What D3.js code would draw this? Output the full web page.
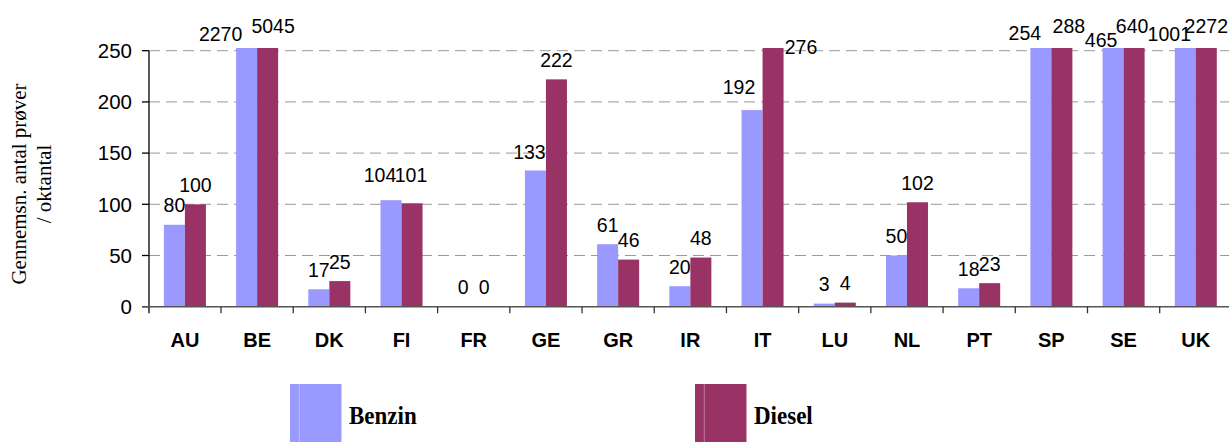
<!DOCTYPE html>
<html lang="da">
<head>
  <meta charset="UTF-8">
  <title>Gennemsn. antal prøver / oktantal</title>
  <style>
    body { margin: 0; background: #fff; overflow: hidden; }
    .grid line { stroke: #9a9a9a; stroke-width: 1; stroke-dasharray: 11 6; }
    .num { font-family: Arial, "Liberation Sans", sans-serif; font-size: 19.5px; fill: #000; }
    .cat { font-family: Arial, "Liberation Sans", sans-serif; font-size: 20px; font-weight: bold; fill: #000; }
    .serif { font-family: "Times New Roman", "Liberation Serif", serif; fill: #000; }
  </style>
</head>
<body>
  <script src="https://cdn.jsdelivr.net/npm/d3@7/dist/d3.min.js"></script>
  <script>
    const categories = ["AU", "BE", "DK", "FI", "FR", "GE", "GR", "IR", "IT", "LU", "NL", "PT", "SP", "SE", "UK"];
    const benzin = [80, 2270, 17, 104, 0, 133, 61, 20, 192, 3, 50, 18, 254, 465, 1001];
    const diesel = [100, 5045, 25, 101, 0, 222, 46, 48, 276, 4, 102, 23, 288, 640, 2272];
    const yTicks = [0, 50, 100, 150, 200, 250];
    const seriesNames = ["Benzin", "Diesel"];
    const colors = ["#9999ff", "#993366"];

    // label nudges (dx, dy) where the labels were moved by hand in the original
    const labelNudge = {
      "BE-0": [-26, 5.5], "BE-1": [5.5, -2.8],
      "FI-0": [-11, -6], "FI-1": [-1, -9],
      "GE-0": [-6, 1.3],
      "IT-0": [-13, -3.2], "IT-1": [28, 18.5],
      "SP-0": [-16, 4.5], "SP-1": [7, -2.2],
      "SE-0": [-12, 11.2], "SE-1": [-2, -2.2],
      "UK-0": [-16, 5.2], "UK-1": [0, -2.8]
    };

    const width = 1229, height = 442;
    const svg = d3.select("body").append("svg").attr("width", width).attr("height", height);

    const x = d3.scaleBand().domain(categories).range([148.8, 1231.9]);
    const y = d3.scaleLinear().domain([0, 250]).range([306.7, 50.7]);
    const plotTop = y(250) - 2.7;
    const barW = x.bandwidth() * 0.291;
    const groupOff = (x.bandwidth() - 2 * barW) / 2;

    // grid
    svg.append("g").attr("class", "grid")
      .selectAll("line").data(yTicks.filter(d => d > 0)).enter().append("line")
      .attr("x1", 149).attr("x2", width)
      .attr("y1", d => y(d)).attr("y2", d => y(d));

    const rows = categories.map((c, i) => ({cat: c, vals: [benzin[i], diesel[i]]}));

    // bars
    const groups = svg.append("g").selectAll("g").data(rows).enter().append("g")
      .attr("transform", d => `translate(${x(d.cat) + groupOff},0)`);

    groups.selectAll("rect").data(d => d.vals.map((v, s) => ({cat: d.cat, v, s}))).enter().append("rect")
      .attr("x", d => d.s * barW)
      .attr("width", barW)
      .attr("y", d => Math.max(y(d.v), plotTop))
      .attr("height", d => y(0) - Math.max(y(d.v), plotTop))
      .attr("fill", d => colors[d.s]);

    // value labels
    groups.selectAll("text").data(d => d.vals.map((v, s) => ({cat: d.cat, v, s}))).enter().append("text")
      .attr("class", "num")
      .attr("text-anchor", "middle")
      .attr("x", d => d.s * barW + barW / 2 + (labelNudge[d.cat + "-" + d.s] || [0, 0])[0])
      .attr("y", d => Math.max(y(d.v), plotTop) - 12.5 + (labelNudge[d.cat + "-" + d.s] || [0, 0])[1])
      .text(d => d.v);

    // y axis
    svg.append("line").attr("x1", 149).attr("x2", 149)
      .attr("y1", y(250)).attr("y2", y(0) + 6.6)
      .attr("stroke", "#000").attr("stroke-width", 1.3);
    svg.append("g").selectAll("line").data(yTicks).enter().append("line")
      .attr("x1", 142).attr("x2", 149)
      .attr("y1", d => y(d)).attr("y2", d => y(d))
      .attr("stroke", "#000").attr("stroke-width", 1.3);
    svg.append("g").selectAll("text").data(yTicks).enter().append("text")
      .attr("class", "num").style("font-size", "20.5px")
      .attr("text-anchor", "end")
      .attr("x", 132).attr("y", d => y(d)).attr("dy", "0.36em")
      .text(d => d);

    // x axis
    svg.append("line").attr("x1", 142).attr("x2", width)
      .attr("y1", y(0)).attr("y2", y(0))
      .attr("stroke", "#555").attr("stroke-width", 1.5);
    svg.append("g").selectAll("line").data(categories.slice(1)).enter().append("line")
      .attr("x1", d => x(d)).attr("x2", d => x(d))
      .attr("y1", y(0)).attr("y2", y(0) + 6.6)
      .attr("stroke", "#333").attr("stroke-width", 1.3);
    svg.append("g").selectAll("text").data(categories).enter().append("text")
      .attr("class", "cat")
      .attr("text-anchor", "middle")
      .attr("x", d => x(d) + x.bandwidth() / 2)
      .attr("y", 346.5)
      .text(d => d);

    // y title
    const title = svg.append("text").attr("class", "serif")
      .attr("transform", "translate(25.5,184) rotate(-90)")
      .attr("text-anchor", "middle")
      .style("font-size", "21px");
    title.append("tspan").attr("x", 0).attr("dy", 0).text("Gennemsn. antal prøver");
    title.append("tspan").attr("x", 0).attr("dy", 25).text("/ oktantal");

    // legend
    const legendX = [290, 695];
    const legend = svg.append("g").selectAll("g").data(seriesNames).enter().append("g")
      .attr("transform", (d, i) => `translate(${legendX[i]},384)`);
    legend.append("rect")
      .attr("width", 51.5).attr("height", 58)
      .attr("fill", (d, i) => colors[i]);
    legend.append("line")
      .attr("x1", 9.3).attr("x2", 9.3).attr("y1", 0).attr("y2", 58)
      .attr("stroke", "rgba(255,255,255,0.35)").attr("stroke-width", 1);
    legend.append("text").attr("class", "serif")
      .attr("transform", "translate(59,40.3) scale(1,1.06)")
      .style("font-size", "23px").style("font-weight", "bold")
      .text(d => d);
  </script>
</body>
</html>
